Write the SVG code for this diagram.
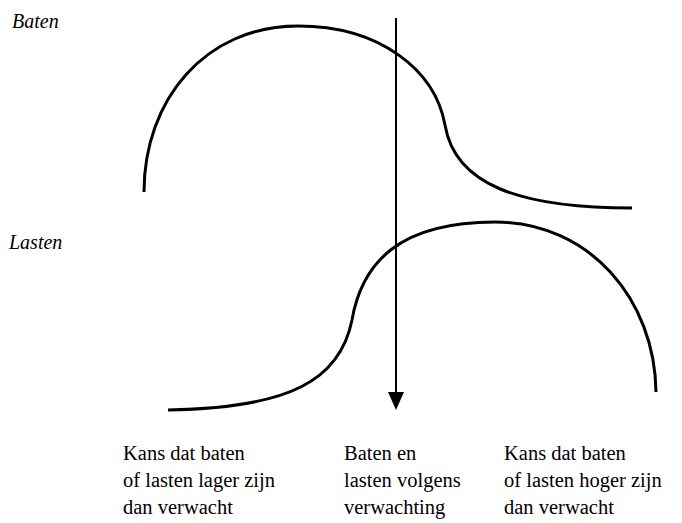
<svg xmlns="http://www.w3.org/2000/svg" width="682" height="523" viewBox="0 0 682 523">
<style>
.lbl{font-family:"Liberation Serif","Times New Roman",serif;font-style:italic;font-size:20px;fill:#000}
.txt{font-family:"Liberation Serif","Times New Roman",serif;font-size:20.5px;fill:#000}
.curve{fill:none;stroke:#000;stroke-width:3}
</style>
<rect width="682" height="523" fill="#fff"/>
<g id="label-baten"><text class="lbl" x="12" y="28">Baten</text></g>
<g id="label-lasten"><text class="lbl" x="9" y="249">Lasten</text></g>
<g id="curve-baten"><path class="curve" d="M144,192 C144,100 205,26 298,26 C380,26 435,70 445,125 C455,185 520,208 632,208"/></g>
<g id="curve-lasten"><path class="curve" d="M168,410 C290,408 340,380 352,320 C362,262 400,222 495,222 C590,222 655,300 656,392"/></g>
<g id="connectors">
<line x1="396" y1="18" x2="396" y2="395" stroke="#000" stroke-width="2"/>
<polygon points="388,392 404,392 396,410" fill="#000"/>
</g>
<g id="text-left"><text class="txt"><tspan x="123" y="460">Kans dat baten</tspan><tspan x="123" y="487">of lasten lager zijn</tspan><tspan x="123" y="514">dan verwacht</tspan></text></g>
<g id="text-mid"><text class="txt"><tspan x="344" y="460">Baten en</tspan><tspan x="344" y="487">lasten volgens</tspan><tspan x="344" y="514">verwachting</tspan></text></g>
<g id="text-right"><text class="txt"><tspan x="504" y="460">Kans dat baten</tspan><tspan x="504" y="487">of lasten hoger zijn</tspan><tspan x="504" y="514">dan verwacht</tspan></text></g>
</svg>
